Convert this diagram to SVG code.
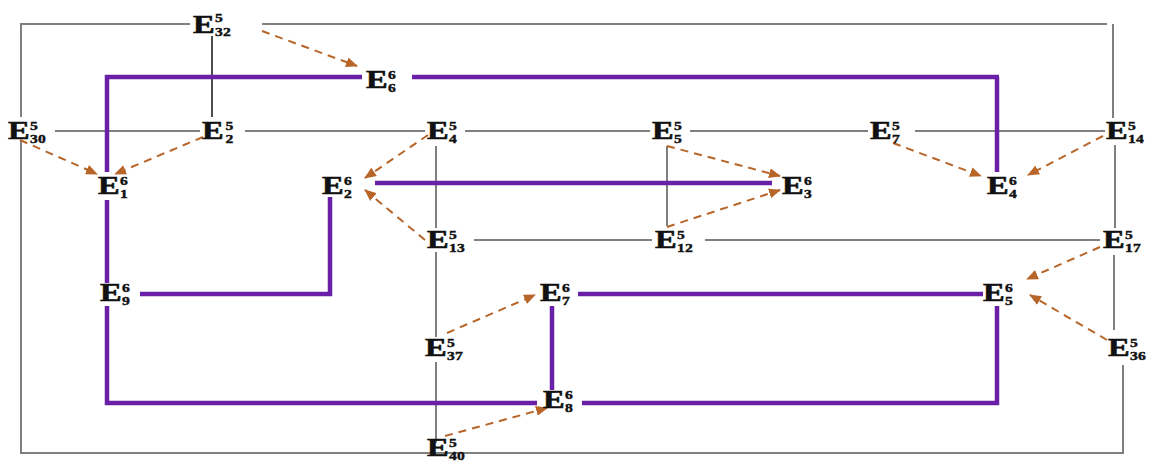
<svg xmlns="http://www.w3.org/2000/svg" width="1158" height="461" viewBox="0 0 1158 461">
<style>
  .g{stroke:#7f7f7f;stroke-width:2;fill:none}
  .k{stroke:#222;stroke-width:1.6;fill:none}
  .p{stroke:#6a20a6;stroke-width:4.5;fill:none;stroke-linejoin:miter}
  .d{stroke:#b8652a;stroke-width:2;stroke-dasharray:8 6;fill:none;marker-end:url(#ah)}
  .E{font-family:"Liberation Serif",serif;font-weight:bold;font-size:25px;fill:#111;stroke:#111;stroke-width:0.6}
  .s{font-family:"Liberation Serif",serif;font-weight:bold;font-size:12px;fill:#111;stroke:#111;stroke-width:0.4}
</style>
<defs>
  <marker id="ah" markerUnits="userSpaceOnUse" markerWidth="12" markerHeight="10" refX="11" refY="5" orient="auto">
    <path d="M0,0 L12,5 L0,10 z" fill="#b8652a"/>
  </marker>
</defs>
<rect width="1158" height="461" fill="#fff"/>
<g id="connectors">
  <path class="g" d="M190 24 H21 V117 M21 141 V453 H1123 V365 M262 24 H1107 M1113 24 V118 M1115 145 V228 M1114 255 V330"/>
  <path class="g" d="M55 131 H200 M245 131 H425 M465 131 H650 M690 131 H868 M915 131 H1105"/>
  <path class="g" d="M474 240 H652 M705 240 H1100"/>
  <path class="g" d="M436 146 V228 M436 252 V337 M436 362 V443 M667 146 V226"/>
  <path class="k" d="M212 36 V117"/>
  <path class="p" d="M362 77 H107 V172 M107 200 V283 M107 306 V403 H537"/>
  <path class="p" d="M412 77 H999 M997 77 V172"/>
  <path class="p" d="M375 183 H772"/>
  <path class="p" d="M330 197 V294 H140"/>
  <path class="p" d="M578 294 H983"/>
  <path class="p" d="M552 306 V390"/>
  <path class="p" d="M582 403 H997 V306"/>
  <path class="d" d="M262 31 L357 66"/>
  <path class="d" d="M20 140 L97 174"/>
  <path class="d" d="M203 137 L115 174"/>
  <path class="d" d="M428 135 L365 178"/>
  <path class="d" d="M425 240 L365 190"/>
  <path class="d" d="M667 146 L780 176"/>
  <path class="d" d="M667 227 L780 190"/>
  <path class="d" d="M893 143 L981 176"/>
  <path class="d" d="M1103 136 L1028 175"/>
  <path class="d" d="M1100 247 L1027 279"/>
  <path class="d" d="M1107 340 L1030 295"/>
  <path class="d" d="M447 333 L535 295"/>
  <path class="d" d="M445 436 L547 408"/>
</g>
<g id="E5_32" transform="translate(193,33) scale(1.3,1)"><text class="E">E</text><text class="s" x="17" y="-11">5</text><text class="s" x="17" y="3">32</text></g>
<g id="E6_6" transform="translate(366,88) scale(1.3,1)"><text class="E">E</text><text class="s" x="17" y="-9">6</text><text class="s" x="17" y="4">6</text></g>
<g id="E5_30" transform="translate(8,139) scale(1.3,1)"><text class="E">E</text><text class="s" x="17" y="-9">5</text><text class="s" x="17" y="4">30</text></g>
<g id="E5_2" transform="translate(202,139) scale(1.3,1)"><text class="E">E</text><text class="s" x="18" y="-9">5</text><text class="s" x="18" y="4">2</text></g>
<g id="E5_4" transform="translate(427,139) scale(1.3,1)"><text class="E">E</text><text class="s" x="17" y="-9">5</text><text class="s" x="17" y="4">4</text></g>
<g id="E5_5" transform="translate(652,139) scale(1.3,1)"><text class="E">E</text><text class="s" x="17" y="-9">5</text><text class="s" x="17" y="4">5</text></g>
<g id="E5_7" transform="translate(870,139) scale(1.3,1)"><text class="E">E</text><text class="s" x="17" y="-9">5</text><text class="s" x="17" y="4">7</text></g>
<g id="E5_14" transform="translate(1106,139) scale(1.3,1)"><text class="E">E</text><text class="s" x="17" y="-9">5</text><text class="s" x="17" y="4">14</text></g>
<g id="E6_1" transform="translate(98,194) scale(1.3,1)"><text class="E">E</text><text class="s" x="17" y="-9">6</text><text class="s" x="17" y="4">1</text></g>
<g id="E6_2" transform="translate(322,194) scale(1.3,1)"><text class="E">E</text><text class="s" x="17" y="-9">6</text><text class="s" x="17" y="4">2</text></g>
<g id="E6_3" transform="translate(782,194) scale(1.3,1)"><text class="E">E</text><text class="s" x="17" y="-9">6</text><text class="s" x="17" y="4">3</text></g>
<g id="E6_4" transform="translate(987,194) scale(1.3,1)"><text class="E">E</text><text class="s" x="17" y="-9">6</text><text class="s" x="17" y="4">4</text></g>
<g id="E5_13" transform="translate(427,248) scale(1.3,1)"><text class="E">E</text><text class="s" x="17" y="-9">5</text><text class="s" x="17" y="4">13</text></g>
<g id="E5_12" transform="translate(655,248) scale(1.3,1)"><text class="E">E</text><text class="s" x="17" y="-9">5</text><text class="s" x="17" y="4">12</text></g>
<g id="E5_17" transform="translate(1103,248) scale(1.3,1)"><text class="E">E</text><text class="s" x="17" y="-9">5</text><text class="s" x="17" y="4">17</text></g>
<g id="E6_9" transform="translate(100,301) scale(1.3,1)"><text class="E">E</text><text class="s" x="17" y="-9">6</text><text class="s" x="17" y="4">9</text></g>
<g id="E6_7" transform="translate(540,301) scale(1.3,1)"><text class="E">E</text><text class="s" x="17" y="-9">6</text><text class="s" x="17" y="4">7</text></g>
<g id="E6_5" transform="translate(983,301) scale(1.3,1)"><text class="E">E</text><text class="s" x="17" y="-9">6</text><text class="s" x="17" y="4">5</text></g>
<g id="E5_37" transform="translate(425,356) scale(1.3,1)"><text class="E">E</text><text class="s" x="17" y="-9">5</text><text class="s" x="17" y="4">37</text></g>
<g id="E5_36" transform="translate(1108,356) scale(1.3,1)"><text class="E">E</text><text class="s" x="17" y="-9">5</text><text class="s" x="17" y="4">36</text></g>
<g id="E6_8" transform="translate(543,408) scale(1.3,1)"><text class="E">E</text><text class="s" x="17" y="-9">6</text><text class="s" x="17" y="4">8</text></g>
<g id="E5_40" transform="translate(427,456) scale(1.3,1)"><text class="E">E</text><text class="s" x="17" y="-9">5</text><text class="s" x="17" y="4">40</text></g>
</svg>
